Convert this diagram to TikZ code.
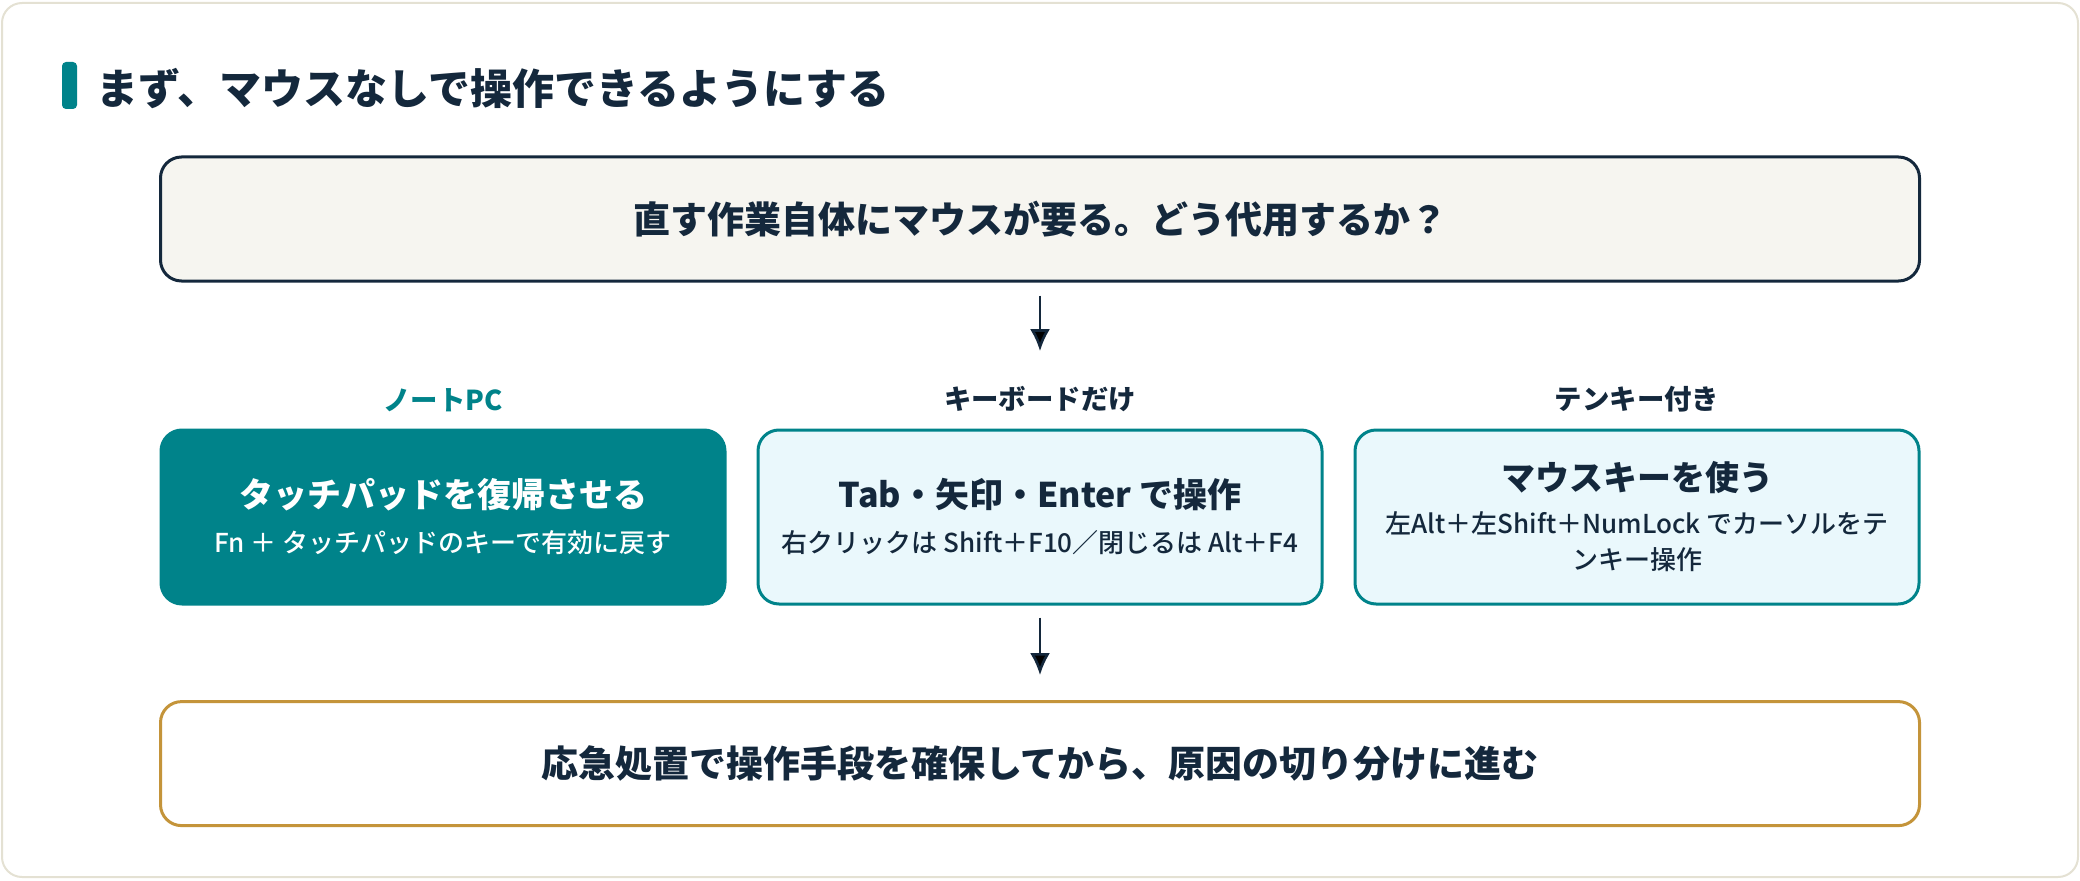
\documentclass[tikz,border=0pt]{standalone}
\usepackage{fontspec}
\setmainfont{Noto Sans CJK JP}
\newfontfamily\medjp{Noto Sans CJK JP Medium}
\usetikzlibrary{positioning,arrows.meta}
\definecolor{ink}{HTML}{14283C}
\definecolor{tealmain}{HTML}{00838A}
\definecolor{paleteal}{HTML}{EAF8FC}
\definecolor{cream}{HTML}{F6F5F0}
\definecolor{gold}{HTML}{C4943A}
\definecolor{cardedge}{HTML}{E4E1D3}

\begin{document}
\begin{tikzpicture}[x=0.5pt,y=0.5pt,>={Latex[length=11pt,width=10pt]},node distance=298.5pt,
  wide box/.style={rounded corners=10.5pt,line width=1.5pt,minimum width=879.5pt,minimum height=62pt,text=ink,font=\fontsize{18.5}{22}\selectfont\bfseries},
  choice box/.style={rounded corners=10.5pt,line width=1.5pt,minimum width=282pt,minimum height=87pt,align=center,draw=tealmain,fill=paleteal,text=ink,font=\medjp\fontsize{13}{18}\selectfont},
  choice label/.style={inner sep=0pt,text=ink,font=\fontsize{13.7}{16}\selectfont\bfseries},
  flow/.style={->,draw=ink,line width=1.3pt}]
                \useasboundingbox (0,0) rectangle (2080,880);
                \draw[cardedge,line width=1pt,fill=white,rounded corners=10pt] (2,3) rectangle (2078,877);

                % heading
                \node[fill=tealmain,rounded corners=2pt,minimum width=7.5pt,minimum height=23.5pt,inner sep=0pt] (bar) at (69.5,794.5) {};
                \node[anchor=west,inner sep=0pt,text=ink,font=\fontsize{21}{25}\selectfont\bfseries] (title) at (96,791) {まず、マウスなしで操作できるようにする};

                % question, three ways, result
                \node[wide box,draw=ink,fill=cream] (question) at (1040,661) {直す作業自体にマウスが要る。どう代用するか？};
                \node[choice box] (keys) [below=73pt of question] {{\rmfamily\fontsize{17}{18}\selectfont\bfseries Tab・矢印・Enter で操作}\\[4.5pt]右クリックは Shift＋F10／閉じるは Alt＋F4};
                \node[choice box,fill=tealmain,text=white] (pad) [left of=keys] {{\rmfamily\fontsize{17}{18}\selectfont\bfseries タッチパッドを復帰させる}\\[4.5pt]Fn ＋ タッチパッドのキーで有効に戻す};
                \node[choice box] (numpad) [right of=keys] {{\rmfamily\fontsize{17}{18}\selectfont\bfseries マウスキーを使う}\\[3.5pt]左Alt＋左Shift＋NumLock でカーソルをテ\\ンキー操作};
                \node[wide box,draw=gold,fill=white] (result) [below=47.3pt of keys] {応急処置で操作手段を確保してから、原因の切り分けに進む};

                \node[choice label,text=tealmain] (padlabel) [above=8pt of pad] {ノートPC};
                \node[choice label] (keyslabel) [above=8pt of keys] {キーボードだけ};
                \node[choice label] (numpadlabel) [above=8pt of numpad] {テンキー付き};

                \path[flow]
                    (question) edge[shorten <=6.5pt,shorten >=17.5pt] (keyslabel)
                    (keys) edge[shorten <=6pt,shorten >=12.5pt] (result)
                ;

            \end{tikzpicture}
\end{document}
